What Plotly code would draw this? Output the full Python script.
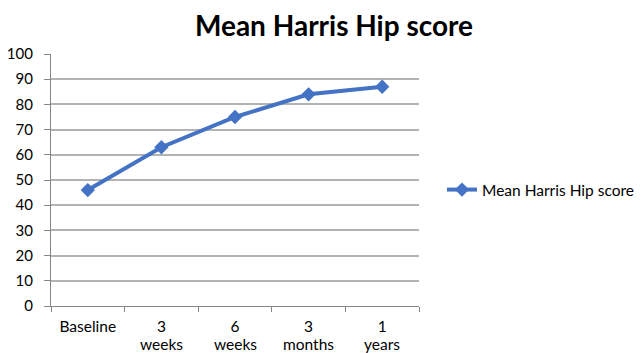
import plotly.graph_objects as go

categories = ["Baseline", "3 weeks", "6 weeks", "3 months", "1 years"]
tick_line1 = ["Baseline", "3", "6", "3", "1"]
tick_line2 = ["", "weeks", "weeks", "months", "years"]
values = [46, 63, 75, 84, 87]
series_name = "Mean Harris Hip score"
title_text = "Mean Harris Hip score"
y_ticks = list(range(0, 101, 10))

FONT = "Lato, Carlito, Calibri, sans-serif"
BLUE = "#4472C4"
AXIS = "#868686"
GRID = "#B3B3B3"

L, R, T, B = 43, 232, 46, 55
W, H = 643, 353
PW, PH = W - L - R, H - T - B

fig = go.Figure()
fig.add_trace(go.Scatter(
    x=categories, y=values, name=series_name, mode="lines+markers",
    line=dict(color=BLUE, width=4),
    marker=dict(symbol="diamond", size=11, color=BLUE),
))

fig.update_layout(
    width=W, height=H,
    margin=dict(l=L, r=R, t=T, b=B, autoexpand=False),
    paper_bgcolor="white", plot_bgcolor="white",
    font=dict(family=FONT, size=15.5, color="#000000"),
    title=dict(text="<b>" + title_text + "</b>", x=(326 - L) / PW, xref="paper", xanchor="center",
               y=1 - 18 / H, yanchor="middle", font=dict(size=28, family=FONT)),
    showlegend=True,
    legend=dict(x=(434 - L) / PW, xanchor="left", y=(298 - 182) / PH, yanchor="middle",
                font=dict(size=15.5), bgcolor="rgba(0,0,0,0)",
                itemwidth=30),
)

fig.update_xaxes(
    type="category", range=[-0.5, len(categories) - 0.5], automargin=False,
    tickvals=categories, ticktext=tick_line1,
    showline=True, linecolor=AXIS, linewidth=1.2,
    ticks="outside", tickson="boundaries", ticklen=5, tickcolor=AXIS,
    showgrid=False, zeroline=False, ticklabelstandoff=6,
)
fig.update_yaxes(
    range=[0, 100], tickvals=y_ticks, automargin=False,
    tickfont=dict(size=15),
    showline=True, linecolor=AXIS, linewidth=1.2,
    ticks="outside", ticklen=6, tickcolor=AXIS,
    showgrid=True, gridcolor=GRID, gridwidth=1.5, zeroline=False,
    ticklabelstandoff=8,
)

for cat, word in zip(categories, tick_line2):
    if word:
        fig.add_annotation(x=cat, xref="x", y=(298 - 336) / PH, yref="paper",
                           text=word, showarrow=False, xanchor="center", yanchor="middle",
                           borderpad=0,
                           font=dict(size=15.5, family=FONT, color="#000000"))

fig.write_html("out.html")
